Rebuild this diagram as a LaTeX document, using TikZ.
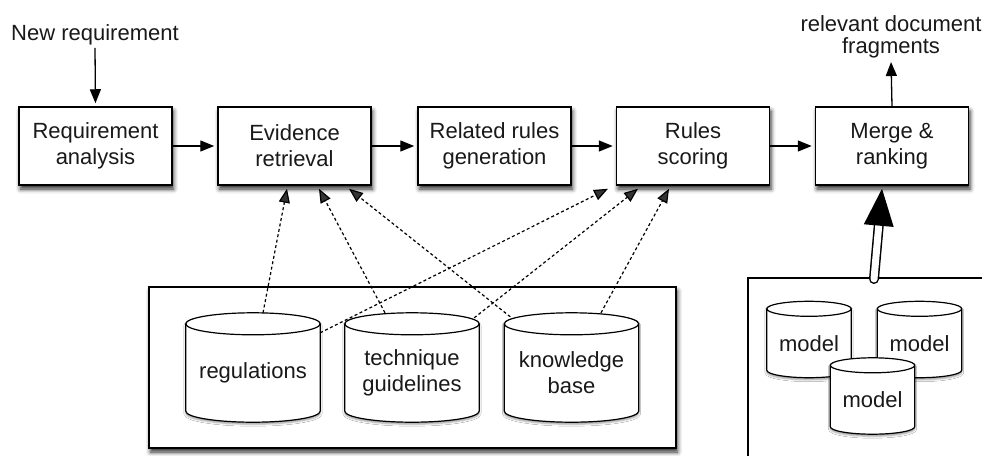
\documentclass[tikz,border=0pt]{standalone}
\usepackage{fontspec}
\setmainfont{Liberation Sans}
\usetikzlibrary{arrows.meta,calc,shadows.blur}

% cylinder outline around an (empty) node; #1 node name, #2 half-height of the end caps
\newcommand\drumoutline[2]{%
  \draw[drumline] let \p1=(#1.north west), \p2=(#1.south east), \n1={(\x2-\x1)/2} in
    (\x1,\y1-#2) -- (\x1,\y2+#2)
      arc[start angle=180, end angle=360, x radius=\n1, y radius=#2]
      -- (\x2,\y1-#2)
      arc[start angle=0, end angle=180, x radius=\n1, y radius=#2] -- cycle;
  \draw[line width=1.2pt] let \p1=(#1.north west), \p2=(#1.south east), \n1={(\x2-\x1)/2} in
    (\x1,\y1-#2) arc[start angle=180, end angle=360, x radius=\n1, y radius=#2];
}

\tikzset{
  txt/.style={font=\fontsize{22}{26}\selectfont, text=black!90, align=center},
  softshadow/.style={blur shadow={shadow xshift=1.5pt, shadow yshift=-4pt,
      shadow blur radius=4.5pt, shadow opacity=85}},
  proc/.style={txt, draw, line width=1.5pt, fill=white, minimum width=153pt,
      minimum height=78pt, inner sep=0pt, softshadow},
  flow/.style={line width=1.3pt, -{Triangle[length=14pt,width=11pt]}, shorten >=3pt},
  feed/.style={line width=1.2pt, dash pattern=on 3pt off 2.5pt,
      -{Triangle[length=14pt,width=11pt]}},
  drumline/.style={line width=1.2pt, fill=white, blur shadow={shadow xshift=0pt,
      shadow yshift=-2pt, shadow blur radius=2pt, shadow opacity=40}},
  bigdrum/.style={minimum width=134pt, minimum height=109pt, inner sep=0pt},
  smalldrum/.style={minimum width=84pt, minimum height=76pt, inner sep=0pt},
  frame/.style={draw, line width=1.5pt, fill=white, inner sep=0pt},
}

\begin{document}
\begin{tikzpicture}[x=1pt, y=1pt]
  \useasboundingbox (0,0) rectangle (982,-455);
  \clip (0,0) rectangle (982,-455);

  % pipeline
  \node[proc] (req) at (95.5,-146) {Requirement\\analysis};
  \node[proc] (ev)  at (294.5,-146) {Evidence\\retrieval};
  \node[proc] (gen) at (494.5,-146) {Related rules\\generation};
  \node[proc] (sc)  at (693,-146) {Rules\\scoring};
  \node[proc] (mr)  at (892,-146) {Merge \&\\ranking};

  \node[txt, anchor=base, inner sep=3pt] (newreq) at (95,-40) {New requirement};
  \node[txt, anchor=south, inner sep=2pt, font=\fontsize{22}{22}\selectfont] (rel) at (891,-60)
    {relevant document\\fragments};

  \draw[flow] (newreq.south) -- (req.north);
  \draw[flow] (req) -- (ev);
  \draw[flow] (ev) -- (gen);
  \draw[flow] (gen) -- (sc);
  \draw[flow] (sc) -- (mr);
  \draw[flow, shorten >=2pt] (mr.north) -- (rel.south);

  % knowledge sources
  \node[frame, softshadow, minimum width=527pt, minimum height=161pt] (src) at (412.5,-367.5) {};
  \node[bigdrum] (reg)  at (253,-367.5) {};
  \node[bigdrum] (tech) at (412,-367.5) {};
  \node[bigdrum] (know) at (571.5,-367.5) {};
  \drumoutline{reg}{11pt}
  \drumoutline{tech}{11pt}
  \drumoutline{know}{11pt}
  \node[txt] (reg-l)  at ([yshift=-5.5pt]reg.center)  {regulations};
  \node[txt] (tech-l) at ([yshift=-5.5pt]tech.center) {technique\\guidelines};
  \node[txt] (know-l) at ([yshift=-5.5pt]know.center) {knowledge\\base};

  \draw[feed] ([xshift=10pt]reg.north) -- ([xshift=-7.5pt,yshift=-3pt]ev.south);
  \draw[feed] ([xshift=-27pt]tech.north) -- ([xshift=24.5pt,yshift=-3pt]ev.south);
  \draw[feed] ([xshift=6pt,yshift=-4pt]know.north west) -- ([xshift=54.5pt,yshift=-3pt]ev.south);
  \draw[feed] ([yshift=-20pt]reg.north east) -- ([xshift=-85pt,yshift=-3pt]sc.south);
  \draw[feed] ([xshift=-5pt,yshift=-5pt]tech.north east) -- ([xshift=-55pt,yshift=-3pt]sc.south);
  \draw[feed] ([xshift=29.5pt]know.north) -- ([xshift=-24pt,yshift=-3pt]sc.south);

  % models
  \node[frame, anchor=north west, minimum width=300pt, minimum height=250pt] (models) at (747,-277) {};
  \node[smalldrum] (m1) at (809,-339.5) {};
  \node[smalldrum] (m2) at (919.5,-339.5) {};
  \node[smalldrum] (m3) at (872.5,-396) {};
  \drumoutline{m1}{7.5pt}
  \node[txt] (m1-l) at ([yshift=-3.75pt]m1.center) {model};
  \drumoutline{m2}{7.5pt}
  \node[txt] (m2-l) at ([yshift=-3.75pt]m2.center) {model};
  \drumoutline{m3}{7.5pt}
  \node[txt] (m3-l) at ([yshift=-3.75pt]m3.center) {model};

  % hollow arrow from the models into merging
  \coordinate (hs) at ([xshift=127pt,yshift=-2pt]models.north west);
  \coordinate (ht) at ([xshift=-10pt,yshift=-3pt]mr.south);
  \coordinate (hb) at ($(ht)!37pt!(hs)$);
  \draw[line width=1.5pt, double=white, double distance=7pt, line cap=round]
    (hs) -- ($(hb)!4pt!(ht)$);
  \fill (ht) -- ($(hb)!15pt!90:(ht)$) -- ($(hb)!15pt!-90:(ht)$) -- cycle;
\end{tikzpicture}
\end{document}
